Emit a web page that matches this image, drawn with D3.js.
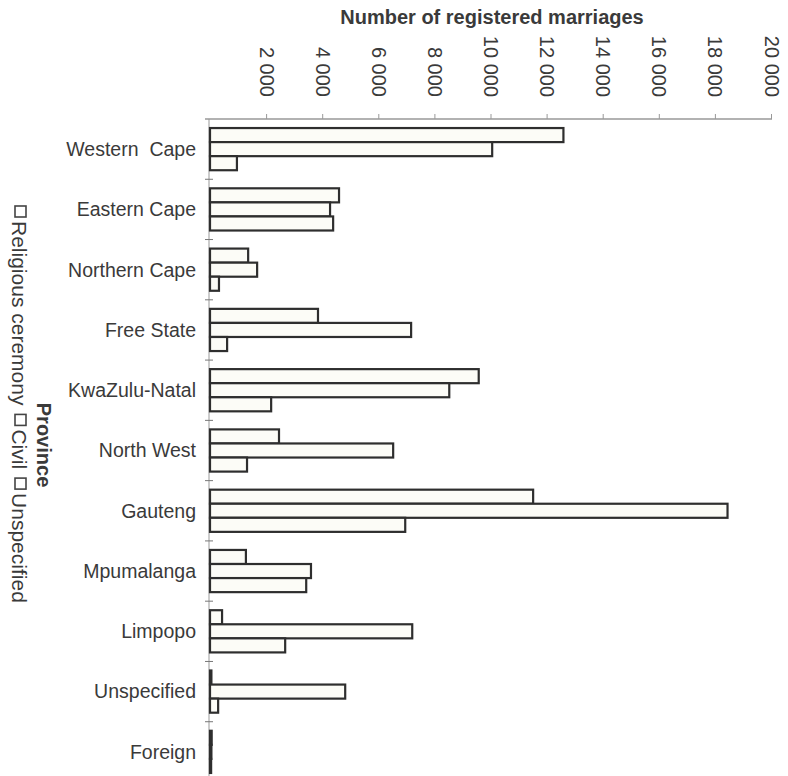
<!DOCTYPE html>
<html>
<head>
<meta charset="utf-8">
<script src="https://cdn.jsdelivr.net/npm/d3@7/dist/d3.min.js"></script>
<style>
  html, body { margin: 0; padding: 0; background: #ffffff; }
  svg { display: block; }
  text { font-family: "Liberation Sans", Arial, sans-serif; fill: #3a3a3a; }
</style>
</head>
<body>
<svg id="chart" width="788" height="776"></svg>
<script>
const categories = ["Western  Cape", "Eastern Cape", "Northern Cape", "Free State", "KwaZulu-Natal",
  "North West", "Gauteng", "Mpumalanga", "Limpopo", "Unspecified", "Foreign"];
const religious   = [12600, 4600, 1360, 3850, 9580, 2460, 11520, 1280, 430, 50, 60];
const civil       = [10060, 4280, 1680, 7170, 8530, 6530, 18450, 3600, 7210, 4820, 50];
const unspecified = [960, 4390, 320, 610, 2180, 1320, 6960, 3430, 2680, 290, 40];
const seriesNames = ["Religious ceremony", "Civil", "Unspecified"];
const tickValues = [2000, 4000, 6000, 8000, 10000, 12000, 14000, 16000, 18000, 20000];
const title = "Number of registered marriages";
const axisTitle = "Province";

const seriesData = [religious, civil, unspecified];
const svg = d3.select("#chart");
const fmt = d3.formatLocale({decimal: ".", thousands: " ", grouping: [3], currency: ["", ""]}).format(",");

const x = d3.scaleLinear().domain([0, 20000]).range([210, 771]);
const y = d3.scaleBand().domain(categories).range([119, 782]).paddingInner(0.3).paddingOuter(0.15);
const ySub = d3.scaleBand().domain(d3.range(3)).range([0, y.bandwidth()]).padding(0);

// title
svg.append("text").attr("x", 492).attr("y", 24).attr("text-anchor", "middle")
  .style("font-size", "20px").style("font-weight", "bold").text(title);

// top axis
const topAxis = svg.append("g").attr("transform", "translate(0,119)")
  .call(d3.axisTop(x).tickValues(tickValues).tickSize(5).tickFormat(fmt));
topAxis.select(".domain").attr("d", `M205,0H772`).attr("stroke", "#666").attr("stroke-width", 1.2);
topAxis.selectAll(".tick line").attr("stroke", "#999");
topAxis.selectAll(".tick text")
  .attr("transform", "translate(0,-22) rotate(90)")
  .attr("x", 0).attr("y", 0).attr("dy", "0.35em")
  .attr("text-anchor", "end")
  .style("font-size", "20px").style("font-family", "'Liberation Sans', Arial, sans-serif")
  .attr("fill", "#3a3a3a");

// left axis
const leftAxis = svg.append("g").attr("transform", "translate(209,0)");
leftAxis.append("line").attr("x1", 0).attr("x2", 0).attr("y1", 119).attr("y2", 776)
  .attr("stroke", "#999").attr("stroke-width", 1);
const boundaries = categories.slice(1).map(c => y(c) - y.step() * y.paddingInner() / 2);
leftAxis.selectAll("line.tk").data(boundaries).enter().append("line").attr("class", "tk")
  .attr("x1", -4).attr("x2", 4).attr("y1", d => d).attr("y2", d => d)
  .attr("stroke", "#777").attr("stroke-width", 1);

// category labels
svg.append("g").selectAll("text").data(categories).enter().append("text")
  .attr("x", 196).attr("y", d => y(d) + y.bandwidth() / 2)
  .attr("dy", "0.35em").attr("text-anchor", "end")
  .style("font-size", "19.5px").style("white-space", "pre").text(d => d);

// bars
const groups = svg.append("g").selectAll("g").data(categories).enter().append("g")
  .attr("transform", d => `translate(0,${y(d)})`);
groups.selectAll("rect").data((d, i) => seriesData.map((s, k) => ({k, v: s[i]})))
  .enter().append("rect")
  .attr("x", x(0))
  .attr("y", d => ySub(d.k))
  .attr("width", d => x(d.v) - x(0))
  .attr("height", ySub.bandwidth())
  .attr("fill", "#fcfcf7")
  .attr("stroke", "#2e2e2e")
  .attr("stroke-width", 2.2);

// legend (rotated)
const leg = svg.append("g").attr("transform", "translate(12,206) rotate(90)");
let pos = 0;
seriesNames.forEach((name, i) => {
  leg.append("rect").attr("x", pos).attr("y", -14).attr("width", 11).attr("height", 11)
    .attr("fill", "#fff").attr("stroke", "#444").attr("stroke-width", 1.6);
  const t = leg.append("text").attr("x", pos + 15).attr("y", 0)
    .style("font-size", "21px").attr("fill", "#555").text(name);
  pos += 15 + t.node().getComputedTextLength() + 9;
});
svg.append("text").attr("transform", "translate(37,445) rotate(90)")
  .attr("text-anchor", "middle").style("font-size", "20px").style("font-weight", "bold")
  .text(axisTitle);
</script>
</body>
</html>
